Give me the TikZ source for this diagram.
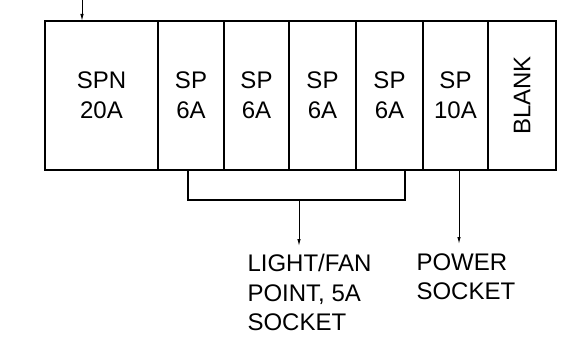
\documentclass[tikz,border=0pt]{standalone}
\usepackage{fontspec}
\setmainfont{Liberation Sans}
\usetikzlibrary{arrows.meta}
\usetikzlibrary{positioning}

\begin{document}
\begin{tikzpicture}[
  x = 1pt, y = -1pt,
  > = {Latex[length=7pt,width=3.5pt]},
  line width=1pt,
  fuse/.style = {draw,line width=1.5pt,minimum height=149pt,inner sep=0pt,outer sep=0pt,
                 align=center,font=\fontsize{24}{30}\selectfont},
  label text/.style = {inner sep=0pt,align=left,anchor=north west,font=\fontsize{24}{29.5}\selectfont}
  ]
  \useasboundingbox (0,0) rectangle (562,353);

  % the distribution board
  \node[fuse,minimum width=113pt,anchor=north west] (spn) at (45,21) {SPN\\20A};
  \node[fuse,minimum width=66pt,right=0pt of spn] (sp1) {SP\\6A};
  \node[fuse,minimum width=65pt,right=0pt of sp1] (sp2) {SP\\6A};
  \node[fuse,minimum width=67pt,right=0pt of sp2] (sp3) {SP\\6A};
  \node[fuse,minimum width=67pt,right=0pt of sp3] (sp4) {SP\\6A};
  \node[fuse,minimum width=65pt,right=0pt of sp4] (sp5) {SP\\10A};
  \node[fuse,minimum width=68pt,right=0pt of sp5] (blank) {\rotatebox{90}{BLANK}};

  % incoming supply
  \coordinate (feed) at (82,0);
  \draw[->] (feed) -- (feed |- spn.north);

  % light / fan circuits
  \coordinate (brl) at (188,200);
  \coordinate (brr) at (405,200);
  \coordinate (lfa) at (299,200);
  \coordinate (lfb) at (299,246);
  \draw[line width=1.5pt] (brl |- sp1.south) -- (brl) -- (brr) -- (brr |- sp4.south);
  \draw[->] (lfa) -- (lfb);
  \node[label text] (light) at (247,254) {LIGHT/FAN\\POINT, 5A\\SOCKET};

  % power socket
  \coordinate (pwb) at (459,244);
  \draw[->] (pwb |- sp5.south) -- (pwb);
  \node[label text] (power) at (416,253) {POWER\\SOCKET};
\end{tikzpicture}
\end{document}
